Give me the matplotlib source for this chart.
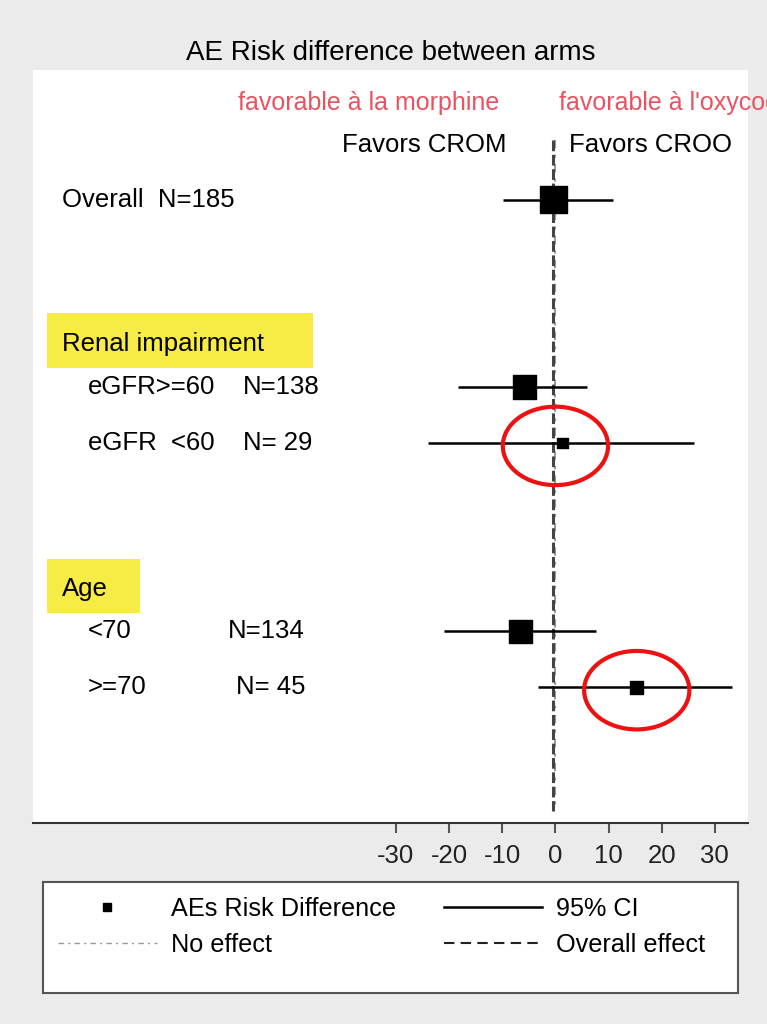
import numpy as np
import matplotlib
matplotlib.use("Agg")
import matplotlib.pyplot as plt
from matplotlib.lines import Line2D
from matplotlib.patches import Rectangle, Ellipse
import matplotlib.transforms as mtransforms

plt.rcParams['font.family'] = ['Liberation Sans', 'DejaVu Sans']

# subgroup estimates (risk difference, %)
groups = ['Overall', 'eGFR>=60', 'eGFR  <60', '<70', '>=70']
n_text = ['N=185', 'N=138', 'N= 29', 'N=134', 'N= 45']
n_vals = [185, 138, 29, 134, 45]
rd = [-0.4, -5.8, 1.3, -6.6, 15.3]
ci_low = [-9.8, -18.3, -24.0, -21.0, -3.2]
ci_high = [10.9, 6.0, 26.0, 7.7, 33.2]
rows = [0, 3.34, 4.34, 7.70, 8.70]
overall_effect = -0.4

headers = ['Renal impairment', 'Age']
header_rows = [2.57, 6.95]
circled = [2, 4]

ticks = [-30, -20, -10, 0, 10, 20, 30]

fig = plt.figure(figsize=(7.67, 10.24), dpi=100, facecolor='#ebebeb')
ax = fig.add_axes([0.043, 0.1963, 0.932, 0.7354])
ax.set_facecolor('white')
ax.set_xlim(-98.3, 36.2)
ax.set_ylim(11.12, -2.32)

# reference lines
ax.vlines(0, -1.07, 10.9, colors='#9a9a9a', linestyles=(0, (4, 3, 1.5, 3)), lw=1.5, zorder=1)
ax.vlines(overall_effect, -1.07, 10.9, colors='#444444', linestyles=(0, (3.5, 1.2)), lw=2.2, zorder=1)

# CIs and point estimates, square size by sqrt(N)
ax.hlines(rows, ci_low, ci_high, colors='black', lw=1.8, zorder=2)
sizes = (1.43 * np.sqrt(n_vals)) ** 2
ax.scatter(rd, rows, s=sizes, marker='s', color='black', zorder=3)

# text labels on the left
tr = mtransforms.blended_transform_factory(ax.transAxes, ax.transData)
fs = 18.5
ax.text(0.0406, rows[0], groups[0] + '  ' + n_text[0], transform=tr, va='center', fontsize=fs)
n_x = [None, 0.2937, 0.2937, 0.2727, 0.2839]
for i in range(1, 5):
    ax.text(0.0769, rows[i], groups[i], transform=tr, va='center', fontsize=fs)
    ax.text(n_x[i], rows[i], n_text[i], transform=tr, va='center', fontsize=fs)

box_w = [0.372, 0.130]
for h, y, w in zip(headers, header_rows, box_w):
    ax.add_patch(Rectangle((0.0196, y - 0.55), w, 0.98, transform=tr,
                           facecolor='#f7ec45', edgecolor='none', zorder=0))
    ax.text(0.0406, y, h, transform=tr, va='center', fontsize=fs)

ax.text(-9.2, -0.98, 'Favors CROM', ha='right', va='center', fontsize=fs)
ax.text(2.6, -0.98, 'Favors CROO', ha='left', va='center', fontsize=fs)
ax.text(-10.6, -1.73, 'favorable à la morphine', ha='right', va='center',
        fontsize=18, color='#e8535f')
ax.text(0.75, -1.73, "favorable à l'oxycodone", ha='left', va='center',
        fontsize=18, color='#e8535f', clip_on=False)

# red highlight ellipses
for i in circled:
    cx = 0 if i == 2 else rd[i]
    ax.add_patch(Ellipse((cx, rows[i] + 0.05), 19.8, 1.40, fill=False,
                         edgecolor='#ee1111', lw=3, zorder=4))

ax.set_title('AE Risk difference between arms', fontsize=20, pad=7)

for s in ['top', 'left', 'right']:
    ax.spines[s].set_visible(False)
ax.spines['bottom'].set_color('#333333')
ax.spines['bottom'].set_linewidth(1.5)
ax.set_yticks([])
ax.set_xticks(ticks)
ax.set_xticklabels([str(t) for t in ticks])
ax.tick_params(axis='x', direction='out', length=7, width=1.5, color='#555555',
               labelsize=18.5, pad=8, labelcolor='#222222')

# legend box
lax = fig.add_axes([0.0561, 0.0303, 0.906, 0.1084])
lax.set_xticks([])
lax.set_yticks([])
lax.set_facecolor('white')
for s in lax.spines.values():
    s.set_color('#555555')
    s.set_linewidth(1.5)
handles = [
    Line2D([], [], marker='s', color='black', ls='none', ms=6),
    Line2D([], [], color='#9a9a9a', lw=1, ls=(0, (4, 3, 1.5, 3))),
    Line2D([], [], color='black', lw=1.8),
    Line2D([], [], color='#222222', lw=1.5, ls=(0, (5, 3))),
]
labels = ['AEs Risk Difference', 'No effect', '95% CI', 'Overall effect']
lax.legend(handles, labels, ncol=2, loc='upper left', bbox_to_anchor=(0, 1),
           frameon=False, fontsize=18.2, handlelength=3.9, handletextpad=0.55,
           columnspacing=1.9, borderaxespad=0.1, borderpad=0.5, labelspacing=0.45)

fig.savefig('out.png', dpi=100, facecolor=fig.get_facecolor())
